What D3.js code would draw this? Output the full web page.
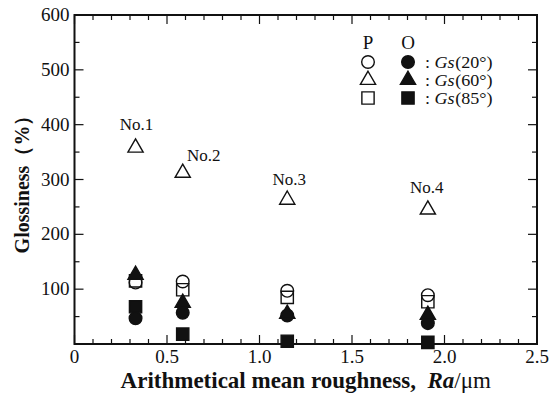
<!DOCTYPE html>
<html>
<head>
<meta charset="utf-8">
<script src="https://cdn.jsdelivr.net/npm/d3@7"></script>
<style>
  html, body { margin: 0; padding: 0; background: #fff; }
  svg text { font-family: "Liberation Serif", "DejaVu Serif", serif; fill: #111; }
</style>
</head>
<body>
<div id="chart"></div>
<script>
// values
const roughness = [0.33, 0.585, 1.15, 1.91];
const sampleNames = ["No.1", "No.2", "No.3", "No.4"];
const p20 = [112, 114, 97, 89];
const p60 = [358, 312, 263, 245];
const p85 = [115, 99, 85, 77];
const o20 = [47, 57, 52, 38];
const o60 = [126, 75, 55, 53];
const o85 = [68, 18, 5, 3];
const xTicks = [0, 0.5, 1.0, 1.5, 2.0, 2.5];
const yTicks = [100, 200, 300, 400, 500, 600];
const legendAngles = ["20°", "60°", "85°"];

// label offsets in px from the open triangle
const labelOffset = [[1, -18], [21, -12], [2, -15], [-1, -17]];

const W = 549, H = 397;
const margin = { top: 15, right: 12, bottom: 53, left: 74.5 };
const width = W - margin.left - margin.right;
const height = H - margin.top - margin.bottom;

const svg = d3.select("#chart").append("svg")
  .attr("width", W).attr("height", H);
const g = svg.append("g").attr("transform", `translate(${margin.left},${margin.top})`);

const x = d3.scaleLinear().domain([0, 2.5]).range([0, width]);
const y = d3.scaleLinear().domain([0, 600]).range([height, 0]);

// minor/major ticks on all four sides, pointing inward
const xMinor = d3.range(0, 2.51, 0.1);
const yMinor = d3.range(0, 601, 50);
const ticks = g.append("g").attr("stroke", "#111").attr("stroke-width", 1.2);
xMinor.forEach((v, i) => {
  const len = (i % 5 === 0) ? 9 : 5;
  ticks.append("line").attr("x1", x(v)).attr("x2", x(v)).attr("y1", height).attr("y2", height - len);
  ticks.append("line").attr("x1", x(v)).attr("x2", x(v)).attr("y1", 0).attr("y2", len);
});
yMinor.forEach((v, i) => {
  const len = (i % 2 === 0) ? 9 : 5;
  ticks.append("line").attr("y1", y(v)).attr("y2", y(v)).attr("x1", 0).attr("x2", len);
  ticks.append("line").attr("y1", y(v)).attr("y2", y(v)).attr("x1", width).attr("x2", width - len);
});

g.append("rect")
  .attr("width", width).attr("height", height)
  .attr("fill", "none").attr("stroke", "#111").attr("stroke-width", 2);

// tick labels
g.selectAll(".xl").data(xTicks).enter().append("text")
  .attr("x", d => x(d)).attr("y", height + 19)
  .attr("text-anchor", "middle").attr("font-size", 19)
  .text(d => d === 0 ? "0" : d.toFixed(1));
g.selectAll(".yl").data(yTicks).enter().append("text")
  .attr("x", -5).attr("y", d => y(d) + 6)
  .attr("text-anchor", "end").attr("font-size", 19)
  .text(d => d);

// axis titles
const xt = svg.append("text")
  .attr("x", margin.left + width / 2).attr("y", 388)
  .attr("text-anchor", "middle").attr("font-size", 23).attr("font-weight", "bold");
xt.append("tspan").text("Arithmetical mean roughness,\u00a0\u00a0");
xt.append("tspan").attr("font-style", "italic").text("Ra");
xt.append("tspan").attr("font-weight", "normal").text("/μm");

svg.append("text")
  .attr("transform", `translate(29,${margin.top + height / 2}) rotate(-90)`)
  .attr("text-anchor", "middle").attr("font-size", 20).attr("font-weight", "bold")
  .text("Glossiness（%）");

// markers
const sym = {
  circle: d3.symbol().type(d3.symbolCircle).size(125)(),
  tri: d3.symbol().type(d3.symbolTriangle).size(100)(),
  square: d3.symbol().type(d3.symbolSquare).size(150)()
};
const series = [
  { vals: p85, shape: "square", filled: false },
  { vals: p20, shape: "circle", filled: false },
  { vals: p60, shape: "tri", filled: false },
  { vals: o85, shape: "square", filled: true },
  { vals: o20, shape: "circle", filled: true },
  { vals: o60, shape: "tri", filled: true }
];
series.forEach(s => {
  g.append("g").selectAll("path").data(s.vals).enter().append("path")
    .attr("d", sym[s.shape])
    .attr("transform", (d, i) => `translate(${x(roughness[i])},${y(d)})`)
    .attr("fill", s.filled ? "#111" : "none")
    .attr("stroke", "#111").attr("stroke-width", 1.4);
});

// sample labels
g.selectAll(".nl").data(sampleNames).enter().append("text")
  .attr("x", (d, i) => x(roughness[i]) + labelOffset[i][0])
  .attr("y", (d, i) => y(p60[i]) + labelOffset[i][1])
  .attr("text-anchor", "middle").attr("font-size", 17)
  .text(d => d);

// legend
const lg = svg.append("g").attr("transform", "translate(368,0)");
lg.append("text").attr("x", 0).attr("y", 49).attr("text-anchor", "middle").attr("font-size", 19).text("P");
lg.append("text").attr("x", 40).attr("y", 49).attr("text-anchor", "middle").attr("font-size", 19).text("O");
["circle", "tri", "square"].forEach((shape, i) => {
  const ry = 62 + i * 18;
  lg.append("path").attr("d", sym[shape]).attr("transform", `translate(0,${ry})`)
    .attr("fill", "none").attr("stroke", "#111").attr("stroke-width", 1.4);
  lg.append("path").attr("d", sym[shape]).attr("transform", `translate(40,${ry})`)
    .attr("fill", "#111").attr("stroke", "#111").attr("stroke-width", 1.4);
  // pieces as separate texts, widened a little so the small size keeps the row width
  const row = lg.append("g").attr("transform", `translate(57,${ry + 5.5}) scale(1.13,1)`);
  let cx = 0;
  [[":", "normal"], ["Gs", "italic"], [`(${legendAngles[i]})`, "normal"]].forEach(([str, st], k) => {
    const t = row.append("text").attr("x", cx).attr("y", 0)
      .attr("font-size", 16).attr("font-style", st).text(str);
    cx += t.node().getComputedTextLength() + (k === 0 ? 4 : 0.5);
  });
});
</script>
</body>
</html>
